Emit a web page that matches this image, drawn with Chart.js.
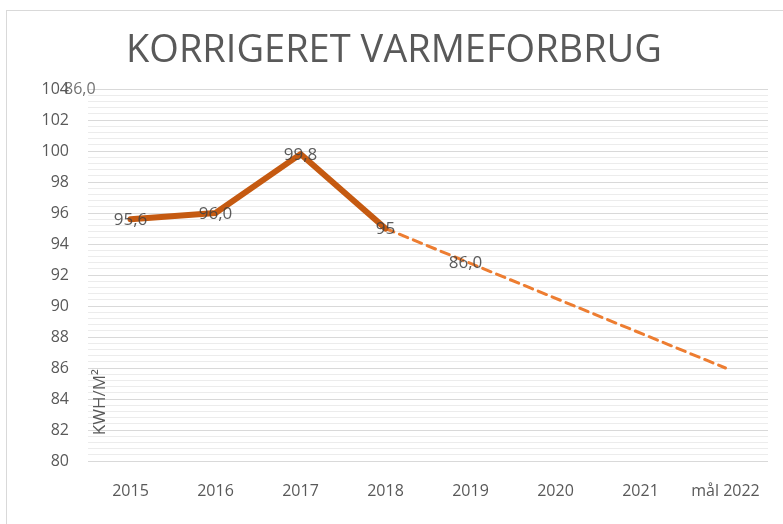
<!DOCTYPE html>
<html>
<head>
<meta charset="utf-8">
<script src="https://cdn.jsdelivr.net/npm/chart.js@4.4.0/dist/chart.umd.min.js"></script>
<style>
  html, body { margin: 0; padding: 0; background: #fff; }
  #wrap { width: 783px; height: 524px; position: relative; }
</style>
</head>
<body>
<div id="wrap"><canvas id="chart" width="783" height="524"></canvas></div>
<script>
const years = ['2015', '2016', '2017', '2018', '2019', '2020', '2021', 'mål 2022'];
const actual = [95.6, 96.0, 99.8, 95, null, null, null, null];
const target = [null, null, null, 95, null, null, null, 86];
const actualLabels = ['95,6', '96,0', '99,8', '95'];
const targetLabel = '86,0';
const yMin = 80;
const yMax = 104;

const FONT = '"Open Sans", "Liberation Sans", sans-serif';
const grey = '#595959';

function isMajor(v) {
    return Math.abs(v - Math.round(v / 2) * 2) < 1e-6;
}

// frame, title, axis title and data labels
const decorations = {
    id: 'decorations',
    beforeDraw(chart) {
        const ctx = chart.ctx;
        ctx.save();
        ctx.strokeStyle = '#d9d9d9';
        ctx.lineWidth = 1;
        ctx.strokeRect(6.5, 10.5, 800, 600);
        ctx.fillStyle = grey;
        ctx.font = '38px ' + FONT;
        ctx.textAlign = 'center';
        ctx.textBaseline = 'middle';
        ctx.fillText('KORRIGERET VARMEFORBRUG', 394, 51);
        ctx.restore();
    },
    afterDatasetsDraw(chart) {
        const ctx = chart.ctx;
        const xs = chart.scales.x;
        const ys = chart.scales.y;
        ctx.save();
        // axis title inside the plot
        ctx.fillStyle = grey;
        ctx.font = '17px ' + FONT;
        ctx.textAlign = 'center';
        ctx.textBaseline = 'middle';
        ctx.translate(chart.chartArea.left + 12, ys.getPixelForValue(83.8));
        ctx.rotate(-Math.PI / 2);
        ctx.fillText('KWH/M²', 0, 0);
        ctx.restore();

        ctx.save();
        ctx.fillStyle = '#404040';
        ctx.globalAlpha = 0.85;
        ctx.font = '17px ' + FONT;
        ctx.textAlign = 'center';
        ctx.textBaseline = 'middle';
        const m0 = chart.getDatasetMeta(0);
        actualLabels.forEach((t, i) => {
            const p = m0.data[i];
            ctx.fillText(t, p.x, p.y + 1);
        });
        // target label sits on the dashed line at 2019
        const m1 = chart.getDatasetMeta(1);
        const a = m1.data[3], b = m1.data[7];
        const x = xs.getPixelForValue(4);
        const y = a.y + (b.y - a.y) * (x - a.x) / (b.x - a.x);
        ctx.fillText(targetLabel, x - 5, y);
        // stray overlapping label next to the top tick
        ctx.textAlign = 'left';
        ctx.fillStyle = grey;
        ctx.font = '16px ' + FONT;
        ctx.fillText(targetLabel, 64, ys.getPixelForValue(yMax));
        ctx.restore();
    }
};

new Chart(document.getElementById('chart'), {
    type: 'line',
    data: {
        labels: years,
        datasets: [
            {
                data: actual,
                borderColor: '#c55a11',
                borderWidth: 6,
                borderCapStyle: 'round',
                borderJoinStyle: 'round',
                pointRadius: 0,
                tension: 0,
                spanGaps: false
            },
            {
                data: target,
                borderColor: '#ed7d31',
                borderWidth: 3,
                borderDash: [9, 6],
                borderCapStyle: 'round',
                pointRadius: 0,
                tension: 0,
                spanGaps: true
            }
        ]
    },
    options: {
        responsive: false,
        animation: false,
        layout: { padding: { top: 89, right: 15, left: 0, bottom: 0 } },
        plugins: {
            legend: { display: false },
            title: { display: false },
            tooltip: { enabled: false }
        },
        scales: {
            x: {
                offset: true,
                grid: { display: false, drawTicks: false },
                border: { display: false },
                ticks: { color: grey, font: { family: FONT, size: 16 }, padding: 21 },
                afterFit(scale) { scale.height = 63; }
            },
            y: {
                min: yMin,
                max: yMax,
                border: { display: false },
                grid: {
                    drawTicks: false,
                    color: ctx => isMajor(ctx.tick.value) ? '#d9d9d9' : '#ececec',
                    lineWidth: 1
                },
                ticks: {
                    stepSize: 0.4,
                    autoSkip: false,
                    color: grey,
                    font: { family: FONT, size: 16 },
                    padding: 19,
                    callback: v => isMajor(v) ? String(Math.round(v)) : ''
                },
                afterFit(scale) { scale.width = 88; }
            }
        }
    },
    plugins: [decorations]
});
</script>
</body>
</html>
